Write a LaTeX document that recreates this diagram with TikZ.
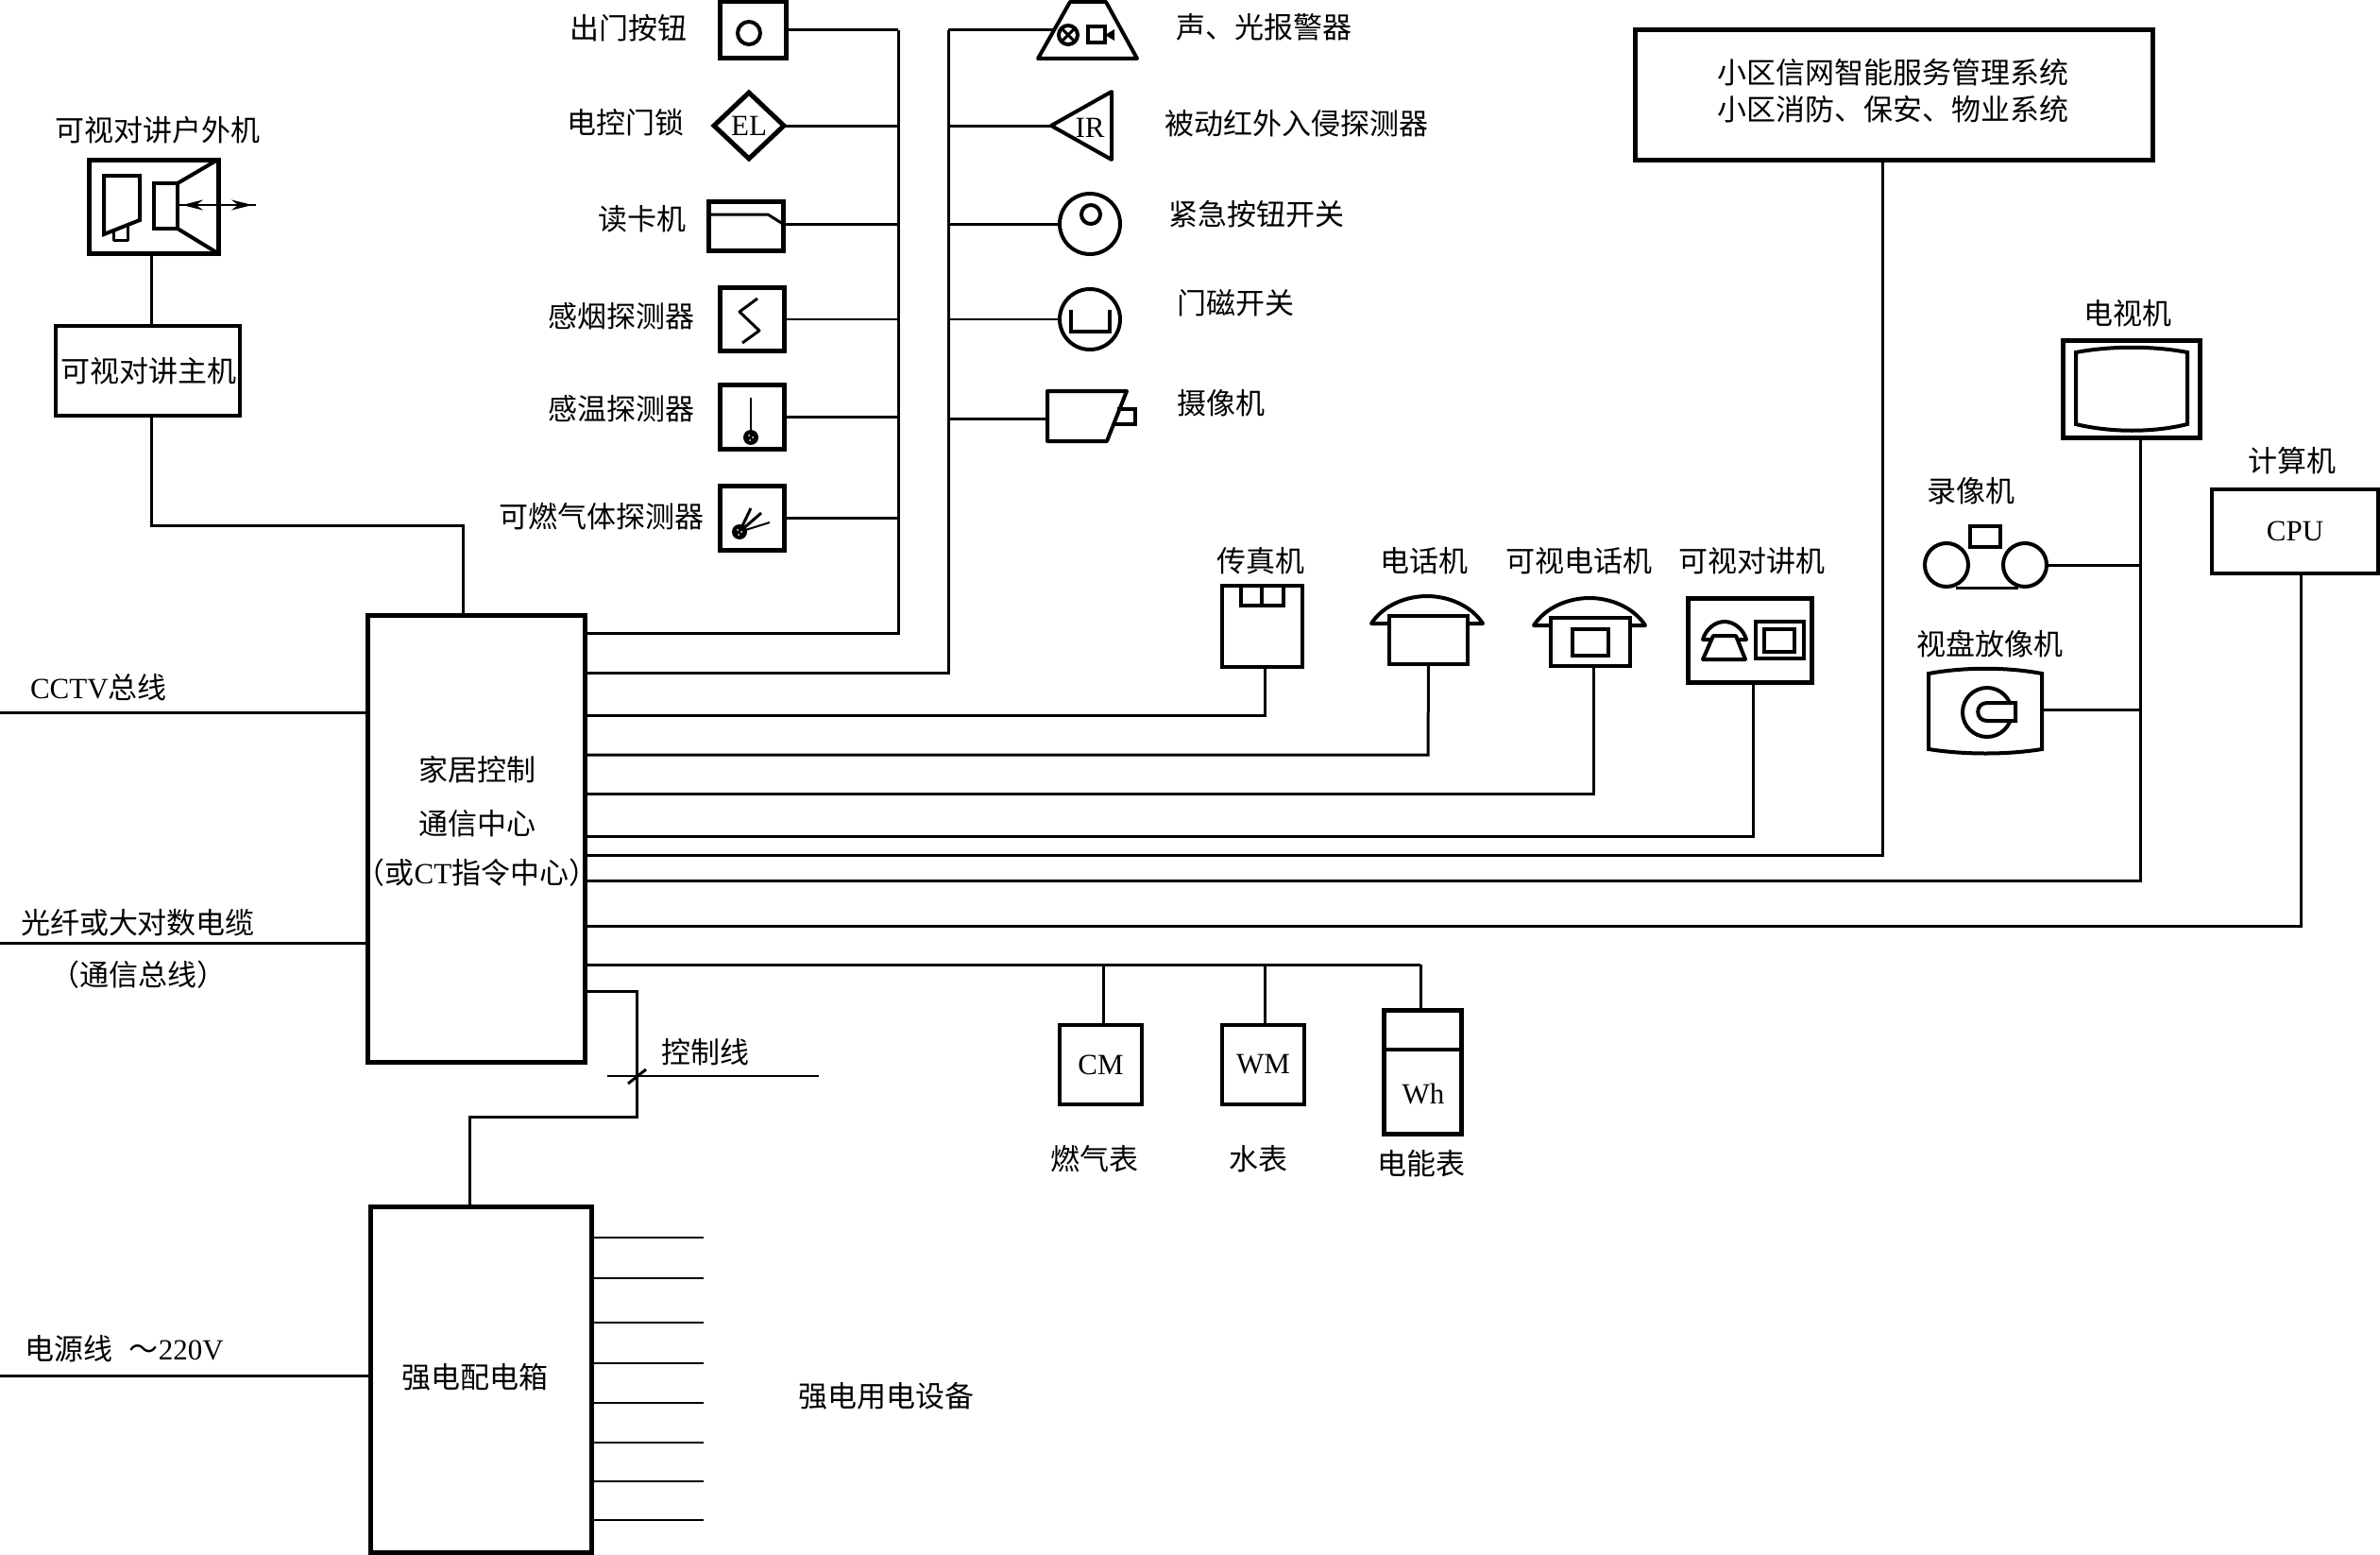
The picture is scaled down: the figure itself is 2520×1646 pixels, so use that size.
\documentclass[tikz,border=0pt]{standalone}
\usepackage{fontspec}
\setmainfont{Liberation Serif}
\newfontfamily\cjk{Noto Sans CJK SC}
\usetikzlibrary{arrows.meta,shapes.geometric}
\newcommand{\latn}[1]{{\rmfamily #1}}
\tikzset{
  lab/.style={font=\cjk\fontsize{31}{35}\selectfont, inner sep=0pt, outer sep=0pt},
  latlab/.style={font=\rmfamily\fontsize{31}{35}\selectfont, inner sep=0pt, outer sep=0pt},
  bx/.style={draw=black, line width=5pt, fill=white, inner sep=0pt, outer sep=0pt, font=\rmfamily\fontsize{31}{35}\selectfont},
  bxthin/.style={bx, line width=4pt},
  disc/.style={bx, circle, line width=4pt},
  wire/.style={draw=black, line width=3pt, line join=miter},
  thinw/.style={draw=black, line width=2pt},
  sym/.style={draw=black, line width=4pt, line join=miter},
  symthin/.style={draw=black, line width=3pt, line join=round},
}
\begin{document}
\begin{tikzpicture}[x=1pt,y=-1pt]
\path[use as bounding box, fill=white] (0,0) rectangle (2520,1646);

% ---- named junctions
\coordinate (busa) at (951,670);
\coordinate (busb) at (1004,712);
\coordinate (faxc) at (1339,757);
\coordinate (telc) at (1512,799);
\coordinate (vphc) at (1687,840);
\coordinate (intc) at (1856,885);
\coordinate (sysc) at (1993,905);
\coordinate (tvc)  at (2266,932);
\coordinate (cpuc) at (2436,980);
\coordinate (metc) at (1504,1021);
\coordinate (ctla) at (674,1049);
\coordinate (ctlb) at (674,1182);
\coordinate (ctlc) at (497,1182);

% ---- main blocks
\node[bx, minimum width=230pt, minimum height=473pt] (main) at (504,887.5) {};
\node[lab] (maint1) at (505,815) {家居控制};
\node[lab] (maint2) at (505,872) {通信中心};
\node[lab] (maint3) at (505,924) {（或\latn{CT}指令中心）};

\node[bx, minimum width=234pt, minimum height=366pt] (power) at (509,1460) {};
\node[lab] (powert) at (503,1458) {强电配电箱};

% ---- outdoor unit and host
\node[bx, minimum width=137pt, minimum height=99pt] (outdoor) at (162.5,218.5) {};
\node[lab] (outdoort) at (167,138) {可视对讲户外机};
\draw[sym] (110,186) -- (148,186) -- (148,233) -- (110,248) -- cycle;
\draw[symthin] (120,244) -- (120,254) -- (135,254) -- (135,238);
\draw[sym] (163,194) rectangle (188,242);
\draw[sym] (188,194) -- (229,170);
\draw[sym] (188,242) -- (229,267);
\draw[thinw, {Stealth[length=22pt,width=11pt]}-{Stealth[length=22pt,width=11pt]}] (193,217) -- (267,217);
\draw[thinw] (190,217) -- (271,217);
\node[bxthin, minimum width=195pt, minimum height=95pt] (host) at (156.5,392.5) {};
\node[lab] (hostt) at (157,393) {可视对讲主机};
\draw[wire] (160,268) -- (160,345);
\draw[wire] (160,440) -- (160,556) -- (490,556) -- (490,651);

% ---- left input lines
\coordinate (cctvl) at (0,754);
\coordinate (fibl) at (0,998);
\coordinate (pwrl) at (0,1456);
\draw[wire] (cctvl) -- (cctvl -| main.west);
\draw[wire] (fibl) -- (fibl -| main.west);
\draw[wire] (pwrl) -- (pwrl -| power.west);
\node[lab, anchor=west] (cctvt) at (32,728) {\latn{CCTV}总线};
\node[lab, anchor=west] (fibt) at (22,977) {光纤或大对数电缆};
\node[lab] (fibt2) at (146,1032) {（通信总线）};
\node[lab, anchor=west] (pwrt) at (26,1428) {电源线\hspace{18pt}～\latn{220V}};

% ---- left device column
\draw[wire] (951,32) -- (busa) -- (busa -| main.east);
\node[bx, minimum width=70pt, minimum height=60pt] (exitb) at (797,32) {};
\draw[sym] (793,35) circle[radius=12];
\node[lab] (exitt) at (665,30) {出门按钮};
\draw[wire] (exitb.east) -- (exitb.east -| busa);

\node[bx, diamond, minimum width=74pt, minimum height=70pt] (lock) at (793,133) {EL};
\node[lab] (lockt) at (662,130) {电控门锁};
\draw[wire] (lock.east) -- (lock.east -| busa);

\node[bx, minimum width=79pt, minimum height=52pt] (reader) at (789.5,239) {};
\coordinate (readp) at (829,237);
\draw[symthin] (752,227) -- (813,227) -- (829,237);
\node[lab] (readt) at (680,232) {读卡机};
\draw[wire] (readp) -- (readp -| busa);

\node[bx, minimum width=68pt, minimum height=67pt] (smoke) at (796,337.5) {};
\draw[symthin] (802,316) -- (783,330) -- (804,350) -- (786,363);
\node[lab] (smoket) at (658,335) {感烟探测器};
\draw[thinw] (smoke.east) -- (smoke.east -| busa);

\node[bx, minimum width=68pt, minimum height=68pt] (temp) at (796,441) {};
\draw[thinw] (795,421) -- (795,458);
\fill (795,463) circle[radius=8];
\fill[white] (793,461) circle[radius=1] (797,463) circle[radius=1] (794,466) circle[radius=1];
\node[lab] (tempt) at (658,433) {感温探测器};
\draw[wire] (temp.east) -- (temp.east -| busa);

\node[bx, minimum width=68pt, minimum height=68pt] (gas) at (796,548) {};
\draw[symthin] (783,563) -- (795,538) (783,563) -- (806,543);
\draw[thinw] (783,563) -- (815,553);
\fill (783,563) circle[radius=8];
\fill[white] (781,561) circle[radius=1] (785,563) circle[radius=1] (782,566) circle[radius=1];
\node[lab] (gast) at (637,547) {可燃气体探测器};
\draw[wire] (gas.east) -- (gas.east -| busa);

% ---- right device column
\draw[wire] (1004,32) -- (busb) -- (busb -| main.east);
\coordinate (alarmp) at (1115,32);
\draw[sym, line join=round] (1099,62) -- (1133,2) -- (1171,2) -- (1204,62) -- cycle;
\draw[sym] (1131,37) circle[radius=10];
\draw[symthin] (1124,30) -- (1138,44) (1138,30) -- (1124,44);
\draw[sym] (1152,28) rectangle (1170,45);
\fill (1170,37) -- (1180,31) -- (1180,43) -- cycle;
\node[lab] (alarmt) at (1338,29) {声、光报警器};
\draw[wire] (alarmp) -- (alarmp -| busb);

\coordinate (irp) at (1113,133);
\draw[sym, line join=round] (irp) -- (1177,97) -- (1177,169) -- cycle;
\node[latlab] (irt) at (1154,135) {IR};
\node[lab] (irl) at (1373,131) {被动红外入侵探测器};
\draw[wire] (irp) -- (irp -| busb);

\node[disc, minimum size=64pt] (panic) at (1154,237) {};
\draw[sym] (1155,227) circle[radius=10];
\node[lab] (panict) at (1330,227) {紧急按钮开关};
\draw[wire] (panic.west) -- (panic.west -| busb);

\node[disc, minimum size=64pt] (door) at (1154,338) {};
\draw[sym] (1134,328) -- (1134,351) -- (1175,351) -- (1175,328);
\node[lab] (doort) at (1308,321) {门磁开关};
\draw[thinw] (door.west) -- (door.west -| busb);

\coordinate (camp) at (1109,443);
\draw[sym] (1183,433) -- (1202,433) -- (1202,449) -- (1178,449);
\draw[sym, line join=round] (camp) -- (1109,414) -- (1193,414) -- (1172,467) -- (1109,467) -- cycle;
\node[lab] (camt) at (1293,427) {摄像机};
\draw[wire] (camp) -- (camp -| busb);

% ---- fax, phones
\node[bxthin, minimum width=85pt, minimum height=86pt] (fax) at (1336,663) {};
\draw[sym] (1314,620) -- (1314,641) -- (1359,641) -- (1359,620) (1336,620) -- (1336,641);
\node[lab] (faxt) at (1335,594) {传真机};
\draw[wire] (faxc |- fax.south) -- (faxc) -- (faxc -| main.east);

\draw[sym, line join=round] (1452,660) .. controls (1465,640) and (1490,631) .. (1511,631) .. controls (1532,631) and (1557,640) .. (1570,660) -- cycle;
\node[bxthin, minimum width=83pt, minimum height=51pt] (tel) at (1512.5,677.5) {};
\node[lab] (telt) at (1508,594) {电话机};
\draw[wire] (tel.south) -- (telc) -- (telc -| main.east);

\draw[sym, line join=round] (1624,662) .. controls (1637,642) and (1662,633) .. (1683,633) .. controls (1704,633) and (1729,642) .. (1742,662) -- cycle;
\node[bxthin, minimum width=84pt, minimum height=51pt] (vph) at (1684,679.5) {};
\draw[sym] (1665,666) rectangle (1703,694);
\node[lab] (vpht) at (1672,594) {可视电话机};
\draw[wire] (vphc |- vph.south) -- (vphc) -- (vphc -| main.east);

\node[bx, minimum width=131pt, minimum height=89pt] (icom) at (1852.5,677.5) {};
\draw[symthin, line width=4pt] (1803,677) .. controls (1806,666) and (1816,658) .. (1826,658) .. controls (1836,658) and (1846,666) .. (1849,677) -- cycle;
\draw[symthin, line width=4pt, fill=white] (1814,673) -- (1838,673) -- (1848,698) -- (1803,698) -- cycle;
\draw[sym] (1859,658) rectangle (1910,697);
\draw[sym] (1868,666) rectangle (1900,690);
\node[lab] (icomt) at (1855,594) {可视对讲机};
\draw[wire] (intc |- icom.south) -- (intc) -- (intc -| main.east);

% ---- system box
\node[bx, minimum width=548pt, minimum height=137pt] (sys) at (2005,100.5) {};
\node[lab] (syst1) at (2004,77) {小区信网智能服务管理系统};
\node[lab] (syst2) at (2004,116) {小区消防、保安、物业系统};
\draw[wire] (sysc |- sys.south) -- (sysc) -- (sysc -| main.east);

% ---- TV group
\node[bx, minimum width=145pt, minimum height=103pt] (tv) at (2256.5,411.5) {};
\draw[sym] (2198,373) .. controls (2235,366) and (2280,366) .. (2316,373) -- (2316,449) .. controls (2280,458) and (2235,458) .. (2198,449) -- cycle;
\node[lab] (tvt) at (2253,332) {电视机};
\draw[wire] (tvc |- tv.south) -- (tvc) -- (tvc -| main.east);

\node[disc, minimum size=46pt] (vcra) at (2061,598) {};
\node[disc, minimum size=46pt] (vcrb) at (2144,598) {};
\draw[symthin] (2071,622) -- (2137,622);
\draw[sym] (2086,557) rectangle (2118,579);
\node[lab] (vcrt) at (2087,520) {录像机};
\draw[wire] (vcrb.east) -- (vcrb.east -| tvc);

\coordinate (dvdp) at (2162,751);
\draw[sym] (2042,713) .. controls (2080,706) and (2125,706) .. (2162,713) -- (2162,793) .. controls (2125,799) and (2080,799) .. (2042,793) -- cycle;
\draw[sym] (2104,754) circle[radius=26];
\draw[sym, fill=white] (2134,744) -- (2104,744) .. controls (2091,744) and (2091,763) .. (2104,763) -- (2134,763) -- cycle;
\node[lab] (dvdt) at (2107,682) {视盘放像机};
\draw[wire] (dvdp) -- (dvdp -| tvc);

% ---- computer
\node[bxthin, minimum width=176pt, minimum height=89pt] (cpu) at (2430,562.5) {CPU};
\node[lab] (cput) at (2427,488) {计算机};
\draw[wire] (cpuc |- cpu.south) -- (cpuc) -- (cpuc -| main.east);

% ---- meters
\coordinate (mcm) at (1168,1021);
\coordinate (mwm) at (1339,1021);
\draw[wire] (metc -| main.east) -- (metc);
\node[bxthin, minimum width=87pt, minimum height=84pt] (cm) at (1165.5,1127) {CM};
\node[bxthin, minimum width=87pt, minimum height=84pt] (wm) at (1337.5,1127) {WM};
\node[bx, minimum width=82pt, minimum height=131pt] (wh) at (1506,1134.5) {};
\draw[sym] (1465,1111) -- (1547,1111);
\node[latlab] (wht) at (1507,1158) {Wh};
\draw[wire] (mcm) -- (mcm |- cm.north);
\draw[wire] (mwm) -- (mwm |- wm.north);
\draw[wire] (metc) -- (metc |- wh.north);
\node[lab] (cml) at (1159,1227) {燃气表};
\node[lab] (wml) at (1332,1227) {水表};
\node[lab] (whl) at (1505,1232) {电能表};

% ---- control line
\draw[wire] (ctla -| main.east) -- (ctla) -- (ctlb) -- (ctlc) -- (ctlc |- power.north);
\coordinate (ctll) at (643,1139);
\coordinate (ctlr) at (867,1139);
\coordinate (ticka) at (665,1147);
\coordinate (tickb) at (684,1132);
\draw[thinw] (ctll) -- (ctlr);
\draw[wire] (ticka) -- (tickb);
\node[lab] (ctlt) at (747,1114) {控制线};

% ---- power outlets
\foreach \n/\y in {1/1310,2/1353,3/1400,4/1443,5/1485,6/1527,7/1568,8/1609} {
  \coordinate (out\n) at (745,\y);
  \draw[thinw] (out\n -| power.east) -- (out\n);
}
\node[lab] (outt) at (938,1478) {强电用电设备};
\end{tikzpicture}
\end{document}
